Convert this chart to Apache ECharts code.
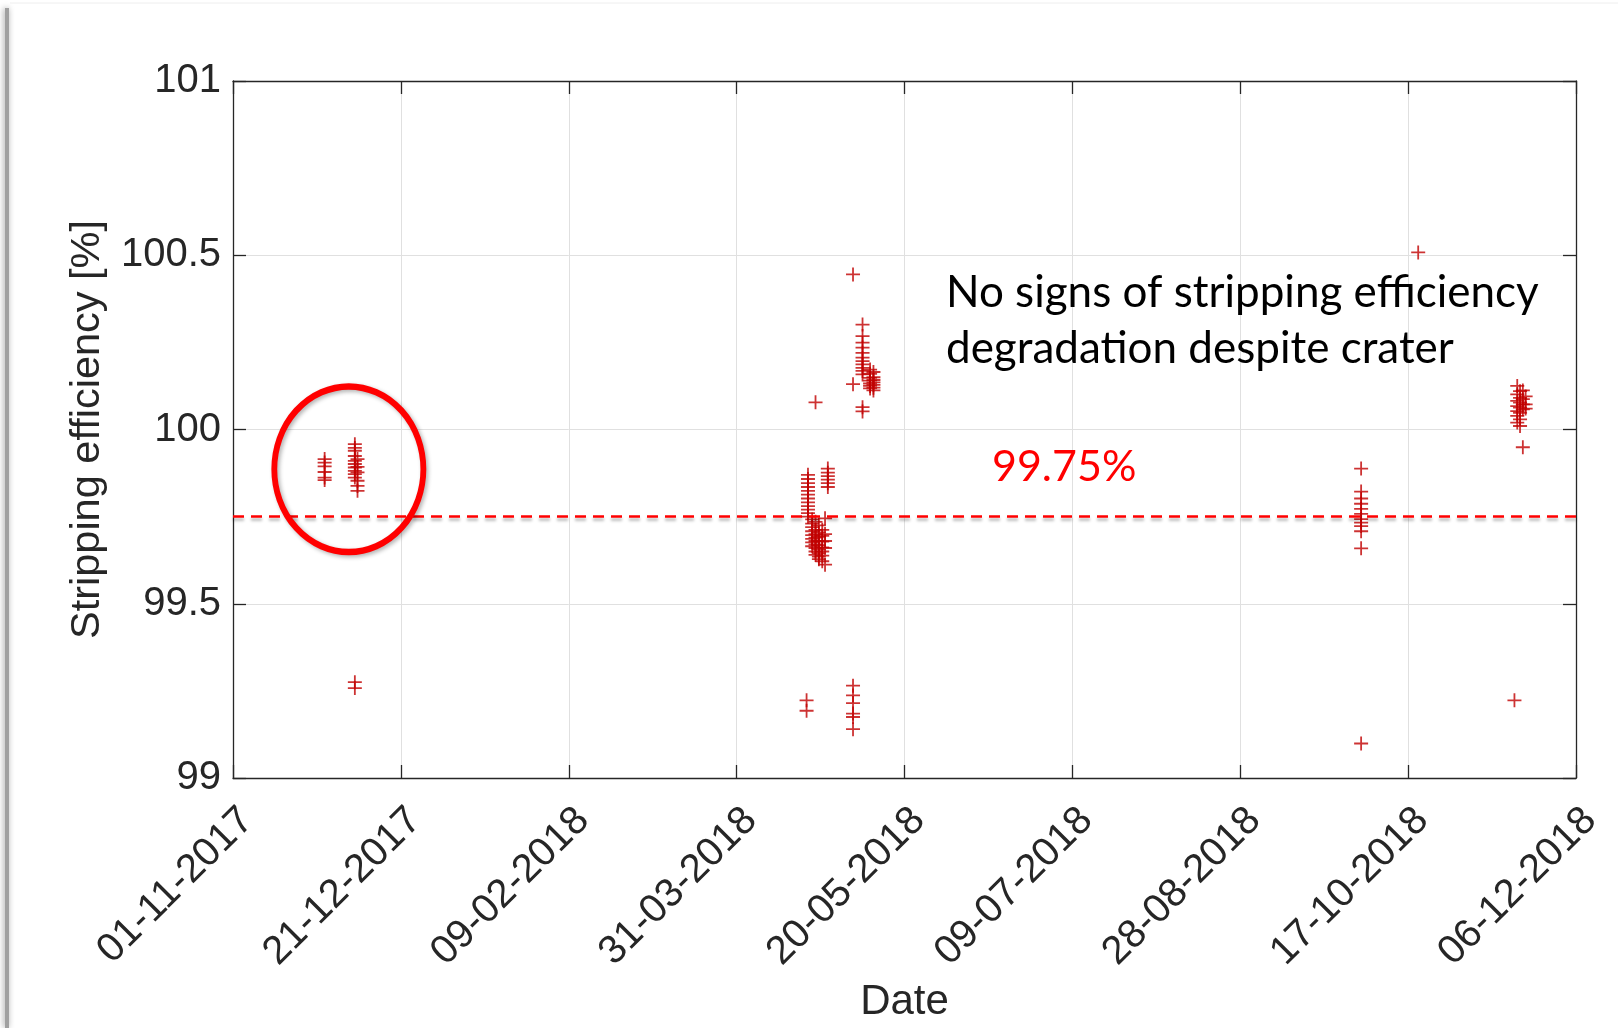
<!DOCTYPE html>
<html>
<head>
<meta charset="utf-8">
<script src="https://cdn.jsdelivr.net/npm/echarts@6/dist/echarts.min.js"></script>
<style>
  html, body { margin: 0; padding: 0; background: #ffffff; }
  #chart { width: 1618px; height: 1028px; }
</style>
</head>
<body>
<div id="chart"></div>
<script>
// Axis definition: days counted from the first tick date
const AXIS_START = '2017-11-01';
const TICK_STEP_DAYS = 50;
const AXIS_SPAN_DAYS = 400;
const Y_MIN = 99;
const Y_MAX = 101;
const Y_STEP = 0.5;
const THRESHOLD = 99.75;

// Measurement sessions (UTC timestamps) and the efficiencies recorded in each
const sessionDates = [
  '2017-11-28 07:00', '2017-12-07 07:00', '2017-12-08 02:00',
  '2018-04-20 20:00', '2018-04-21 06:00', '2018-04-22 12:00', '2018-04-23 12:00',
  '2018-04-24 12:00', '2018-04-25 12:00', '2018-04-26 08:00', '2018-04-27 04:00',
  '2018-05-04 16:00', '2018-05-07 12:00', '2018-05-09 18:00', '2018-05-10 18:00',
  '2018-10-03 00:00', '2018-10-20 00:00',
  '2018-11-17 16:00', '2018-11-18 12:00', '2018-11-19 08:00', '2018-11-20 04:00', '2018-11-21 00:00'
];

const sessionEfficiency = [
  [99.915, 99.905, 99.894, 99.878, 99.862, 99.855],
  [99.958, 99.947, 99.939, 99.924, 99.910, 99.901, 99.891, 99.881, 99.872, 99.862, 99.275, 99.258],
  [99.915, 99.893, 99.877, 99.853, 99.838, 99.824],
  [99.223, 99.193],
  [99.870, 99.858, 99.846, 99.835, 99.824, 99.813, 99.802, 99.791, 99.780, 99.770, 99.760, 99.750],
  [99.742, 99.730, 99.720, 99.708, 99.697, 99.686, 99.676, 99.665],
  [100.078, 99.735, 99.712, 99.700, 99.690, 99.680, 99.670, 99.660, 99.650, 99.640],
  [99.725, 99.705, 99.692, 99.680, 99.668, 99.656, 99.645, 99.635, 99.628],
  [99.712, 99.695, 99.678, 99.662, 99.650, 99.638, 99.622],
  [99.745, 99.700, 99.680, 99.660, 99.612],
  [99.888, 99.876, 99.866, 99.856, 99.846, 99.835],
  [100.445, 100.130, 99.265, 99.237, 99.215, 99.185, 99.175, 99.140],
  [100.301, 100.268, 100.249, 100.235, 100.220, 100.206, 100.196, 100.187, 100.177, 100.168, 100.158, 100.064, 100.052],
  [100.172, 100.160, 100.148, 100.140, 100.132, 100.125, 100.118],
  [100.165, 100.150, 100.142, 100.135, 100.128, 100.120, 100.112],
  [99.888, 99.822, 99.802, 99.787, 99.772, 99.758, 99.743, 99.733, 99.723, 99.708, 99.659, 99.099],
  [100.508],
  [99.223],
  [100.125, 100.101, 100.082, 100.067, 100.053, 100.039, 100.020],
  [100.110, 100.091, 100.077, 100.063, 100.048, 100.029, 100.010],
  [100.112, 100.087, 100.072, 100.058, 99.949],
  [100.095, 100.072, 100.060]
];

const ANNOTATION_LINES = ['No signs of stripping efficiency', 'degradation despite crater'];

const DAY_MS = 86400000;
function parseUTC(s) {
  const [d, t] = s.split(' ');
  const [y, m, dd] = d.split('-').map(Number);
  const [hh, mm] = (t || '00:00').split(':').map(Number);
  return Date.UTC(y, m - 1, dd, hh, mm);
}
const originMs = parseUTC(AXIS_START);
const toDays = s => (parseUTC(s) - originMs) / DAY_MS;
const pad2 = n => (n < 10 ? '0' : '') + n;
function dayLabel(days) {
  const d = new Date(originMs + Math.round(days) * DAY_MS);
  return pad2(d.getUTCDate()) + '-' + pad2(d.getUTCMonth() + 1) + '-' + d.getUTCFullYear();
}

const points = [];
sessionDates.forEach((s, i) => {
  const x = toDays(s);
  sessionEfficiency[i].forEach(v => points.push([x, v]));
});

const AXIS_COLOR = '#262626';
const GRID_COLOR = '#e0e0e0';
const LABEL_FONT = 'Liberation Sans';
const PLUS = 'path://M0,6.1h14v1.8h-14z M6.1,0h1.8v14h-1.8z';

const chart = echarts.init(document.getElementById('chart'), null, { renderer: 'canvas' });

const axisLine = { show: true, onZero: false, lineStyle: { color: AXIS_COLOR, width: 1.3 } };
const axisTick = { show: true, inside: true, length: 13, lineStyle: { color: AXIS_COLOR, width: 1.3 } };

chart.setOption({
  animation: false,
  backgroundColor: '#ffffff',
  grid: { left: 233, right: 42, top: 81, bottom: 248, containLabel: false },
  xAxis: [
    {
      type: 'value', min: 0, max: AXIS_SPAN_DAYS, interval: TICK_STEP_DAYS, position: 'bottom',
      axisLine, axisTick,
      splitLine: { show: true, lineStyle: { color: GRID_COLOR, width: 1 } },
      axisLabel: {
        rotate: 45, fontSize: 40, color: AXIS_COLOR, fontFamily: LABEL_FONT, margin: 22,
        verticalAlign: 'top',
        hideOverlap: false, showMinLabel: true, showMaxLabel: true,
        formatter: v => dayLabel(v)
      },
      name: 'Date', nameLocation: 'middle', nameGap: 203,
      nameTextStyle: { fontSize: 42, color: AXIS_COLOR, fontFamily: LABEL_FONT }
    },
    {
      type: 'value', min: 0, max: AXIS_SPAN_DAYS, interval: TICK_STEP_DAYS, position: 'top',
      axisLine, axisTick, axisLabel: { show: false }, splitLine: { show: false }
    }
  ],
  yAxis: [
    {
      type: 'value', min: Y_MIN, max: Y_MAX, interval: Y_STEP, position: 'left',
      axisLine, axisTick,
      splitLine: { show: true, lineStyle: { color: GRID_COLOR, width: 1 } },
      axisLabel: { fontSize: 40, color: AXIS_COLOR, fontFamily: LABEL_FONT, margin: 12,
        formatter: v => String(v) },
      name: 'Stripping efficiency [%]', nameLocation: 'middle', nameGap: 124, nameRotate: 90,
      nameTextStyle: { fontSize: 41.5, color: AXIS_COLOR, fontFamily: LABEL_FONT }
    },
    {
      type: 'value', min: Y_MIN, max: Y_MAX, interval: Y_STEP, position: 'right',
      axisLine, axisTick, axisLabel: { show: false }, splitLine: { show: false }
    }
  ],
  series: [{
    type: 'scatter',
    xAxisIndex: 0, yAxisIndex: 0,
    data: points,
    symbol: PLUS,
    symbolSize: 14,
    itemStyle: { color: '#c00000' },
    markLine: {
      silent: true,
      symbol: ['none', 'none'],
      label: { show: false },
      lineStyle: {
        color: '#ff0000', type: [11, 7], width: 2.6,
        shadowColor: 'rgba(0,0,0,0.3)', shadowBlur: 3, shadowOffsetY: 3
      },
      data: [{ yAxis: THRESHOLD }]
    }
  }]
});

// Annotations: highlight ellipse around the 2017 runs, threshold label, comment text
const toPx = (d, v) => chart.convertToPixel({ xAxisIndex: 0, yAxisIndex: 0 }, [d, v]);
const ringCenter = toPx(34.5, 99.886);
const ringEdgeX = toPx(34.5 + 22.2, 99.886);
const ringEdgeY = toPx(34.5, 99.886 + 0.2377);
const rx = ringEdgeX[0] - ringCenter[0];
const ry = ringCenter[1] - ringEdgeY[1];
const thresholdPos = toPx(247.5, THRESHOLD);

chart.setOption({
  graphic: [
    {
      type: 'rect', left: 5, top: 8, z: 0,
      shape: { width: 4, height: 1020 },
      style: { fill: '#a0a0a0', shadowColor: 'rgba(0,0,0,0.4)', shadowBlur: 6, shadowOffsetX: -1 }
    },
    {
      type: 'line', z: 0,
      shape: { x1: 10, y1: 3, x2: 1618, y2: 3 },
      style: { stroke: '#eeeeee', lineWidth: 1 }
    },
    {
      type: 'circle', z: 100,
      x: ringCenter[0], y: ringCenter[1], scaleX: rx / ry, scaleY: 1,
      shape: { cx: 0, cy: 0, r: ry },
      style: { fill: 'none', stroke: '#ff0000', lineWidth: 6.5, strokeNoScale: true,
        shadowColor: 'rgba(0,0,0,0.3)', shadowBlur: 4, shadowOffsetX: 2, shadowOffsetY: 2 }
    },
    {
      type: 'text', z: 100,
      x: thresholdPos[0] - 72, y: 467,
      style: { text: THRESHOLD + '%', fill: '#ff0000', font: '43px Lato', verticalAlign: 'middle', align: 'left' }
    },
    {
      type: 'text', z: 100,
      x: 946, y: 293,
      style: { text: ANNOTATION_LINES[0], fill: '#000000', font: '44px Lato', verticalAlign: 'middle', align: 'left' }
    },
    {
      type: 'text', z: 100,
      x: 946, y: 349,
      style: { text: ANNOTATION_LINES[1], fill: '#000000', font: '44px Lato', verticalAlign: 'middle', align: 'left' }
    }
  ]
});
</script>
</body>
</html>
